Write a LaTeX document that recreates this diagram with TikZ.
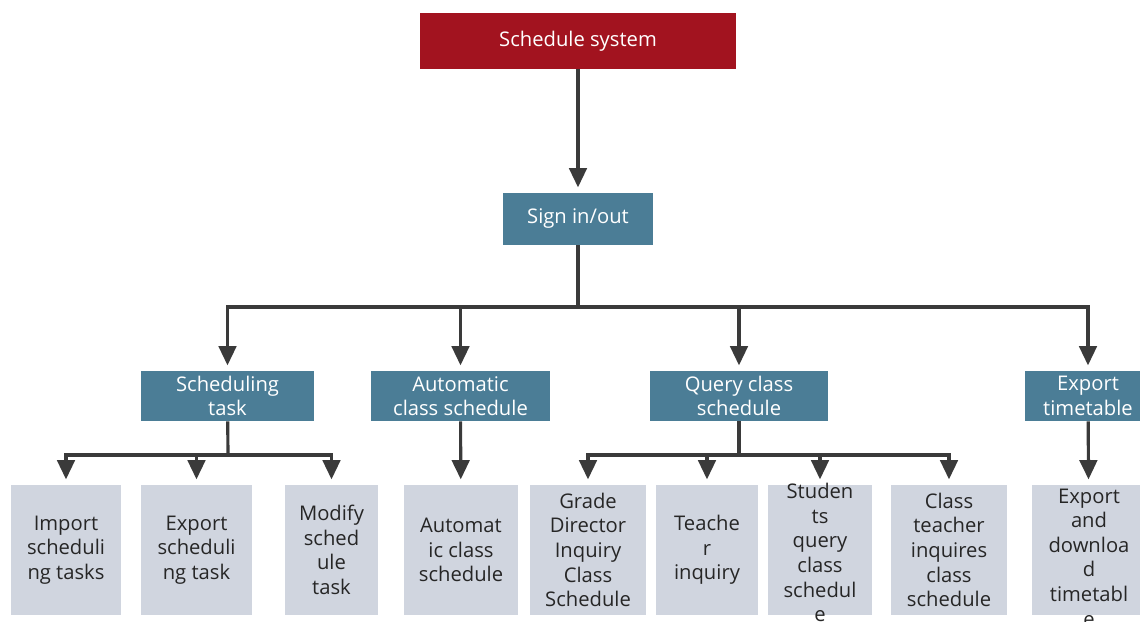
\documentclass[tikz,border=0pt]{standalone}
\usepackage{fontspec}
\setmainfont{Open Sans}
\usepackage{tikz}
\usetikzlibrary{arrows.meta}

\definecolor{sysred}{HTML}{A2131F}
\definecolor{modteal}{HTML}{4B7D96}
\definecolor{leafgray}{HTML}{D0D5DF}
\definecolor{linegray}{HTML}{3A3A3A}
\newcommand{\boxfont}{\fontsize{11.5}{14}\selectfont}
% text that runs past the bottom of its box
\newcommand{\spill}[2]{\smash{\raisebox{-#1}{\begin{tabular}{@{}c@{}}#2\end{tabular}}}}

\begin{document}
\begin{tikzpicture}[
  x=0.02cm, y=-0.02cm,
  box/.style={rectangle, inner sep=1pt, align=center, font=\boxfont},
  sysb/.style={box, fill=sysred, text=white, minimum width=6.32cm, minimum height=1.12cm},
  modb/.style={box, fill=modteal, text=white, minimum height=1.0cm},
  leafb/.style={box, fill=leafgray, text=black!85, minimum height=2.6cm},
  line/.style={draw=linegray, line width=1.8pt},
  arrow/.style={line, -{Triangle[width=10pt,length=11pt]}, shorten >=3pt},
]
\clip (0,0) rectangle (1140,622);

% Top of the tree
\node[sysb] (sys) at (578,41) {Schedule system};
\node[modb, minimum width=3.0cm, minimum height=1.04cm] (sign) at (578,219) {Sign in/out};

% Main modules
\node[modb, minimum width=3.46cm] (sched) at (227.5,396) {Scheduling\\task};
\node[modb, minimum width=3.58cm] (auto) at (460.5,396) {Automatic\\class schedule};
\node[modb, minimum width=3.56cm] (query) at (739,396) {Query class\\schedule};
\node[modb, minimum width=2.52cm] (expt) at (1088,396) {Export\\timetable};

% Leaves
\node[leafb, minimum width=2.2cm] (imp) at (66,550) {Import\\scheduli\\ng tasks};
\node[leafb, minimum width=2.22cm] (exps) at (196.5,550) {Export\\scheduli\\ng task};
\node[leafb, minimum width=1.86cm] (mod) at (331.5,550) {Modify\\sched\\ule\\task};
\node[leafb, minimum width=2.28cm] (autol) at (461,550) {Automat\\ic class\\schedule};
\node[leafb, minimum width=2.32cm] (grade) at (588,550) {Grade\\Director\\Inquiry\\Class\\Schedule};
\node[leafb, minimum width=2.04cm] (teach) at (707,550) {Teache\\r\\inquiry};
\node[leafb, minimum width=2.08cm] (stud) at (820,550) {\spill{6pt}{Studen\\ts\\query\\class\\schedul\\e}};
\node[leafb, minimum width=2.32cm] (clt) at (949,550) {Class\\teacher\\inquires\\class\\schedule};
\node[leafb, minimum width=2.28cm] (expd) at (1089,550) {\spill{8.5pt}{Export\\and\\downloa\\d\\timetabl\\e}};

% Connectors
\draw[arrow] (sys) -- (sign);

\coordinate (bmain) at (578,307);
\draw[line] (sign) -- (bmain);
\foreach \n in {sched,auto,query,expt}
  \draw[arrow] (bmain) -| (\n);

\coordinate (bsched) at (228,455);
\draw[line] (sched) -- (bsched);
\foreach \n in {imp,exps,mod}
  \draw[arrow] (bsched) -| (\n);

\draw[arrow] (auto) -- (autol);

\coordinate (bquery) at (739,455);
\draw[line] (query) -- (bquery);
\foreach \n in {grade,teach,stud,clt}
  \draw[arrow] (bquery) -| (\n);

\draw[arrow] (expt) -- (expd);

\end{tikzpicture}
\end{document}
